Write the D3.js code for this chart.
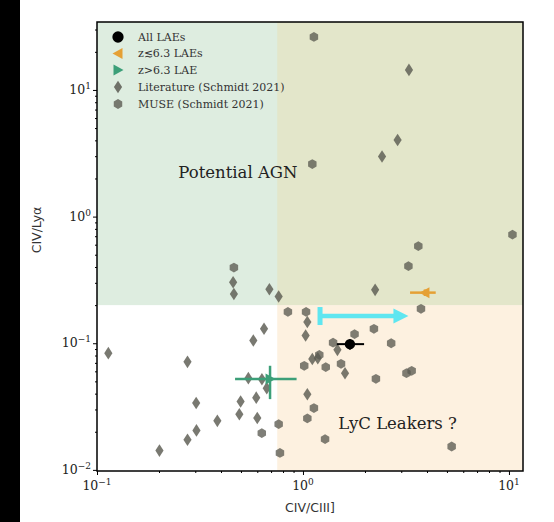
<!DOCTYPE html>
<html><head><meta charset="utf-8">
<script src="https://cdn.jsdelivr.net/npm/d3@7"></script>
<style>body{margin:0;background:#fff}svg{display:block}</style>
</head><body>
<script>
// ---- data ----
const xTicks = [0.1, 1, 10];
const xTickExp = ["−1", "0", "1"];
const yTicks = [0.01, 0.1, 1, 10];
const yTickExp = ["−2", "−1", "0", "1"];
const xBoundary = 0.75;   // CIV/CIII] split
const yBoundary = 0.2;    // CIV/Lya split

const literature = [
  [0.458,0.303],[0.462,0.245],[0.687,0.267],[0.762,0.234],
  [2.88,4.03],[2.42,2.98],[3.27,14.4],[2.24,0.264],
  [1.05,0.147],[1.03,0.115],[0.647,0.130],[0.574,0.105],[0.1135,0.0835],[0.275,0.0713],
  [0.543,0.053],[0.632,0.052],[0.667,0.0442],[1.05,0.0396],[0.593,0.0372],[0.498,0.0347],
  [0.303,0.0337],[0.491,0.0275],[0.60,0.0257],[0.384,0.0244],[0.304,0.0205],[0.275,0.0173],
  [0.201,0.0142],[1.47,0.0887],[1.18,0.0762],[1.11,0.075],[1.60,0.058]
];
const muse = [
  [1.13,26.2],[1.11,2.6],[0.462,0.396],[10.4,0.721],[3.63,0.584],[3.25,0.406],[3.74,0.187],
  [0.845,0.177],[1.035,0.177],[2.21,0.130],[1.78,0.118],[1.40,0.101],[2.68,0.1],[1.2,0.081],
  [1.014,0.0664],[1.29,0.0648],[1.53,0.0688],[3.18,0.058],[3.37,0.0606],[2.26,0.0524],
  [1.13,0.0308],[1.05,0.0255],[0.762,0.023],[0.631,0.0195],[0.773,0.0136],[1.28,0.0175],[5.27,0.0153]
];
// x, y, xlo, xhi, ylo, yhi
const allLAEs = [1.69, 0.0984, 1.46, 1.98, 0.089, 0.107];
const lowZ    = [3.91, 0.251, 3.31, 4.41, 0.236, 0.266];
const highZ   = [0.692, 0.0521, 0.468, 0.931, 0.0362, 0.0664];
const limitArrow = {x0: 1.21, x1: 3.25, y: 0.164};
const legendLabels = ["All LAEs", "z≲6.3 LAEs", "z>6.3 LAE", "Literature (Schmidt 2021)", "MUSE (Schmidt 2021)"];
const annotations = [
  {text: "Potential AGN", x: 0.483, y: 2.25},
  {text: "LyC Leakers ?", x: 2.88, y: 0.0234}
];

// ---- layout ----
const W = 554, H = 522;
const L = 97, R = 523, T = 22, B = 471;
const svg = d3.select("body").append("svg").attr("width", W).attr("height", H);
svg.append("rect").attr("x",0).attr("y",0).attr("width",20).attr("height",H).attr("fill","#000");

const x = d3.scaleLog().domain([0.1, 11.7]).range([L, R]);
const y = d3.scaleLog().domain([0.0098, 34.4]).range([B, T]);

const serif = "'DejaVu Serif', serif";
const sans = "'DejaVu Sans', sans-serif";

// regions
const g = svg.append("g");
g.append("rect").attr("x", L).attr("y", T).attr("width", R-L).attr("height", y(yBoundary)-T).attr("fill", "#deede0");
g.append("rect").attr("x", x(xBoundary)).attr("y", y(yBoundary)).attr("width", R-x(xBoundary)).attr("height", B-y(yBoundary)).attr("fill", "#fdf1e0");
g.append("rect").attr("x", x(xBoundary)).attr("y", T).attr("width", R-x(xBoundary)).attr("height", y(yBoundary)-T).attr("fill", "#e3e6ca");

// annotations
annotations.forEach(a => {
  g.append("text").attr("x", x(a.x)).attr("y", y(a.y)).attr("dy","0.35em")
   .attr("text-anchor","middle").attr("font-family", serif).attr("font-size", 16.5)
   .attr("fill","#222").text(a.text);
});

const markerFill = "#5b5b52";
const hex = d3.symbol().type({draw(ctx, size){const r=Math.sqrt(size/2.598);for(let i=0;i<6;i++){const a=Math.PI/3*i+Math.PI/6;const px=r*Math.cos(a),py=r*Math.sin(a);i?ctx.lineTo(px,py):ctx.moveTo(px,py);}ctx.closePath();}}).size(62);
const diamondPath = "M0,-6.3L4.1,0L0,6.3L-4.1,0Z";

g.selectAll(".lit").data(literature).join("path")
 .attr("d", diamondPath).attr("transform", d => `translate(${x(d[0])},${y(d[1])})`)
 .attr("fill", markerFill).attr("fill-opacity", 0.82);
g.selectAll(".muse").data(muse).join("path")
 .attr("d", hex()).attr("transform", d => `translate(${x(d[0])},${y(d[1])})`)
 .attr("fill", markerFill).attr("fill-opacity", 0.78);

// cyan limit arrow
const cy = "#5fe6f0";
g.append("line").attr("x1", x(limitArrow.x0)).attr("x2", x(limitArrow.x1)-10).attr("y1", y(limitArrow.y)).attr("y2", y(limitArrow.y))
 .attr("stroke", cy).attr("stroke-width", 4.5);
g.append("line").attr("x1", x(limitArrow.x0)).attr("x2", x(limitArrow.x0)).attr("y1", y(limitArrow.y)-9).attr("y2", y(limitArrow.y)+9)
 .attr("stroke", cy).attr("stroke-width", 5);
g.append("path").attr("d", `M${x(limitArrow.x1)},${y(limitArrow.y)}l-15,-7.5l0,15z`).attr("fill", cy);

function errPoint(p, color, shape, lw){
  g.append("line").attr("x1", x(p[2])).attr("x2", x(p[3])).attr("y1", y(p[1])).attr("y2", y(p[1])).attr("stroke", color).attr("stroke-width", lw);
  g.append("line").attr("x1", x(p[0])).attr("x2", x(p[0])).attr("y1", y(p[4])).attr("y2", y(p[5])).attr("stroke", color).attr("stroke-width", lw);
  g.append("path").attr("d", shape).attr("transform", `translate(${x(p[0])},${y(p[1])})`).attr("fill", color);
}
const triL = "M-5.5,0L4.5,-5.5L4.5,5.5Z";
const triR = "M5.5,0L-4.5,-5.5L-4.5,5.5Z";
errPoint(highZ, "#3c9f78", triR, 2.5);
errPoint(lowZ, "#e5a035", triL, 2.5);
errPoint(allLAEs, "#000", d3.symbol().type(d3.symbolCircle).size(85)(), 2);

// legend
const legY = [37, 53.5, 70, 87, 104];
const legShapes = [
  {d: d3.symbol().type(d3.symbolCircle).size(100)(), fill: "#000", op: 1},
  {d: triL, fill: "#e5a035", op: 1},
  {d: triR, fill: "#3c9f78", op: 1},
  {d: diamondPath, fill: markerFill, op: 0.85},
  {d: hex(), fill: markerFill, op: 0.8}
];
legendLabels.forEach((t, i) => {
  g.append("path").attr("d", legShapes[i].d).attr("transform", `translate(118,${legY[i]})`).attr("fill", legShapes[i].fill).attr("fill-opacity", legShapes[i].op);
  g.append("text").attr("x", 138).attr("y", legY[i]).attr("dy","0.35em").attr("font-family", serif).attr("font-size", 11).attr("fill","#333").text(t);
});

// frame
svg.append("rect").attr("x", L).attr("y", T).attr("width", R-L).attr("height", B-T).attr("fill","none").attr("stroke","#000").attr("stroke-width",1.5);

// axes
function minors(dom){const out=[];for(let e=-3;e<=2;e++)for(let k=2;k<=9;k++){const v=k*Math.pow(10,e);if(v>=dom[0]&&v<=dom[1])out.push(v);}return out;}
const xa = svg.append("g").attr("transform", `translate(0,${B})`);
xa.call(d3.axisBottom(x).tickValues(xTicks).tickSize(4).tickFormat(""));
xa.append("g").call(d3.axisBottom(x).tickValues(minors(x.domain())).tickSize(2).tickFormat(""));
xa.selectAll(".domain").remove();
xa.selectAll("line").attr("stroke","#000");
xTicks.forEach((v,i)=>{
  const t = xa.append("text").attr("x", x(v)).attr("y", 19).attr("text-anchor","middle").attr("font-family", serif).attr("font-size", 12.5).attr("fill","#222");
  t.append("tspan").text("10");
  t.append("tspan").attr("dy",-5).attr("font-size",9).text(xTickExp[i]);
});
const ya = svg.append("g").attr("transform", `translate(${L},0)`);
ya.call(d3.axisLeft(y).tickValues(yTicks).tickSize(4).tickFormat(""));
ya.append("g").call(d3.axisLeft(y).tickValues(minors(y.domain())).tickSize(2).tickFormat(""));
ya.selectAll(".domain").remove();
ya.selectAll("line").attr("stroke","#000");
yTicks.forEach((v,i)=>{
  const t = ya.append("text").attr("x", -6).attr("y", y(v)+4).attr("text-anchor","end").attr("font-family", serif).attr("font-size", 12.5).attr("fill","#222");
  t.append("tspan").text("10");
  t.append("tspan").attr("dy",-5).attr("font-size",9).text(yTickExp[i]);
});

// axis labels
svg.append("text").attr("x", (L+R)/2).attr("y", 512).attr("text-anchor","middle").attr("font-family", sans).attr("font-size", 12.5).attr("fill","#333").text("CIV/CIII]");
svg.append("text").attr("transform", `translate(41,230) rotate(-90)`).attr("text-anchor","middle").attr("font-family", sans).attr("font-size", 12.5).attr("fill","#333").text("CIV/Lyα");
</script>
</body></html>
